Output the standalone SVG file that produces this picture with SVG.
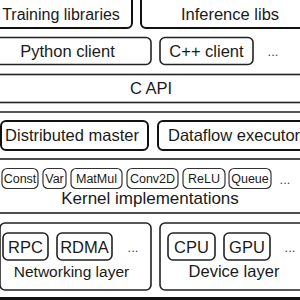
<svg xmlns="http://www.w3.org/2000/svg" width="300" height="300" viewBox="0 0 300 300">
<style>
.box{fill:#fff;stroke:#111;stroke-width:2}
.layer{fill:#fff;stroke:#222;stroke-width:1.6}
.chip{fill:#fff;stroke:#333;stroke-width:1.2}
.chip2{fill:#fff;stroke:#222;stroke-width:1.6}
text{font-family:"Liberation Sans",Arial,sans-serif;fill:#1a1a1a}
.t16{font-size:16.5px;text-anchor:middle}
.t12{font-size:12.5px;text-anchor:middle}
.dots{font-size:13px;fill:#444;text-anchor:middle}
</style>
<rect x="0" y="0" width="300" height="300" fill="#fff"/>
<g id="training-libraries"><rect class="box" x="-6" y="-6" width="138" height="34" rx="5"/><text class="t16" x="61" y="19.5" style="font-size:16px">Training libraries</text></g>
<g id="inference-libs"><rect class="box" x="141" y="-6" width="170" height="34" rx="5"/><text class="t16" x="230" y="19.5">Inference libs</text></g>
<g id="python-client"><rect class="layer" x="-6" y="37.5" width="157" height="27" rx="5"/><text class="t16" x="67.5" y="57">Python client</text></g>
<g id="cpp-client"><rect class="layer" x="160" y="37.5" width="93" height="27" rx="5"/><text class="t16" x="206.5" y="57">C++ client</text></g>
<g id="client-more"><text class="dots" x="273" y="56">...</text></g>
<g id="c-api"><rect class="layer" x="-6" y="74.5" width="312" height="28"/><text class="t16" x="151" y="94">C API</text></g>
<g id="runtime-layer"><line x1="-6" y1="112" x2="306" y2="112" stroke="#222" stroke-width="1.6"/></g>
<g id="distributed-master"><rect class="box" x="1" y="121" width="147" height="29" rx="5"/><text class="t16" x="72" y="141">Distributed master</text></g>
<g id="dataflow-executor"><rect class="box" x="158" y="121" width="160" height="29" rx="5"/><text x="168" y="141" style="font-size:16.5px">Dataflow executor</text></g>
<g id="kernel-implementations"><rect class="layer" x="-6" y="159" width="312" height="54"/><text class="t16" x="150" y="204" style="font-size:17px">Kernel implementations</text></g>
<g id="const"><rect class="chip" x="2" y="168.5" width="36" height="20" rx="5"/><text class="t12" x="20" y="183">Const</text></g>
<g id="var"><rect class="chip" x="43" y="168.5" width="23" height="20" rx="5"/><text class="t12" x="54.5" y="183">Var</text></g>
<g id="matmul"><rect class="chip" x="71" y="168.5" width="51" height="20" rx="5"/><text class="t12" x="96.5" y="183">MatMul</text></g>
<g id="conv2d"><rect class="chip" x="127" y="168.5" width="51" height="20" rx="5"/><text class="t12" x="152.5" y="183">Conv2D</text></g>
<g id="relu"><rect class="chip" x="183" y="168.5" width="42" height="20" rx="5"/><text class="t12" x="204" y="183">ReLU</text></g>
<g id="queue"><rect class="chip" x="229" y="168.5" width="42" height="20" rx="5"/><text class="t12" x="250" y="183">Queue</text></g>
<g id="kernel-more"><text class="dots" x="285" y="184">...</text></g>
<g id="networking-layer"><rect class="layer" x="0" y="223" width="151" height="67" rx="5"/><text x="71.5" y="277" class="t16" style="font-size:15.5px">Networking layer</text></g>
<g id="rpc"><rect class="chip2" x="3" y="233" width="45" height="27" rx="5"/><text class="t16" x="25.5" y="252.5">RPC</text></g>
<g id="rdma"><rect class="chip2" x="57" y="233" width="55" height="27" rx="5"/><text class="t16" x="84.5" y="252.5">RDMA</text></g>
<g id="net-more"><text class="dots" x="133" y="252">...</text></g>
<g id="device-layer"><rect class="layer" x="160" y="223" width="150" height="67" rx="5"/><text class="t16" x="234" y="277">Device layer</text></g>
<g id="cpu"><rect class="chip2" x="168" y="233" width="47" height="27" rx="5"/><text class="t16" x="191.5" y="252.5">CPU</text></g>
<g id="gpu"><rect class="chip2" x="224" y="233" width="46" height="27" rx="5"/><text class="t16" x="247" y="252.5">GPU</text></g>
<g id="device-more"><text class="dots" x="290" y="252">...</text></g>
<g id="connectors"></g>
<rect x="-6" y="297" width="312" height="8" fill="#111"/>
</svg>
